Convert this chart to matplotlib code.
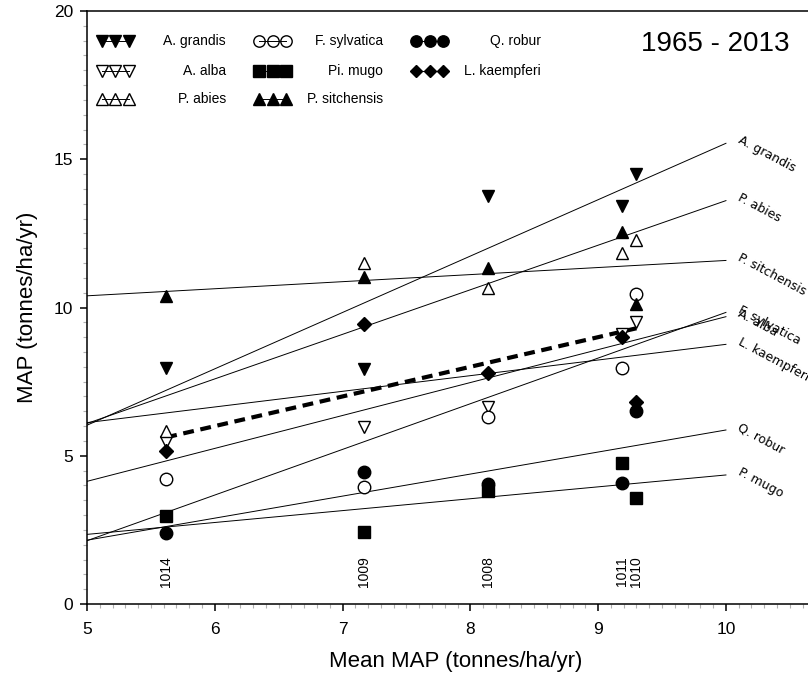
import numpy as np
import matplotlib
matplotlib.use('Agg')
import matplotlib.pyplot as plt
from matplotlib.ticker import MultipleLocator

plt.rcParams['font.family'] = ['Liberation Sans', 'DejaVu Sans']

# Sites and their mean MAP (x axis)
sites = ['1014', '1009', '1008', '1011', '1010']
mean_map = [5.62, 7.17, 8.14, 9.19, 9.30]

# MAP per species at each site (same order as sites)
a_grandis = [7.96, 7.93, 13.76, 13.42, 14.50]
a_alba = [5.46, 5.97, 6.64, 9.12, 9.51]
p_abies = [5.84, 11.50, 10.66, 11.84, 12.28]
f_sylvatica = [4.20, 3.95, 6.31, 7.96, 10.46]
pi_mugo = [2.97, 2.43, 3.80, 4.75, 3.57]
p_sitchensis = [10.38, 11.03, 11.33, 12.55, 10.12]
q_robur = [2.39, 4.45, 4.05, 4.08, 6.51]
l_kaempferi = [5.16, 9.44, 7.79, 9.00, 6.81]

period = '1965 - 2013'

# legend name, line label, values, marker, filled
series = [
    ('A. grandis', 'A. grandis', a_grandis, 'v', True),
    ('A. alba', 'A. alba', a_alba, 'v', False),
    ('P. abies', 'P. abies', p_abies, '^', False),
    ('F. sylvatica', 'F. sylvatica', f_sylvatica, 'o', False),
    ('Pi. mugo', 'P. mugo', pi_mugo, 's', True),
    ('P. sitchensis', 'P. sitchensis', p_sitchensis, '^', True),
    ('Q. robur', 'Q. robur', q_robur, 'o', True),
    ('L. kaempferi', 'L. kaempferi', l_kaempferi, 'D', True),
]
msize = {'v': 9, '^': 9, 'o': 9, 's': 9, 'D': 7}

fig = plt.figure(figsize=(8.08, 6.76), dpi=100)
# axes reaches the right edge of the figure (cropped like the original)
ax = fig.add_axes([87 / 808, 1 - 604 / 676, 722 / 808, 593 / 676])

xfit = np.array([5.0, 10.0])
for name, label, vals, mk, filled in series:
    # regression line of species MAP on mean MAP
    k, b = np.polyfit(mean_map, vals, 1)
    yfit = k * xfit + b
    ax.plot(xfit, yfit, color='black', lw=0.7, zorder=2)
    ax.text(10.1, yfit[-1] + 0.12, label, rotation=-28, rotation_mode='anchor',
            ha='left', va='center', fontsize=9, family='DejaVu Sans',
            clip_on=False)
    ax.plot(mean_map, vals, ls='none', marker=mk, ms=msize[mk],
            mfc='black' if filled else 'white', mec='black', mew=1.0,
            zorder=4)

# 1:1 line over the range of sites
ax.plot([min(mean_map), max(mean_map)], [min(mean_map), max(mean_map)],
        color='black', lw=3, dashes=(2.6, 1.6), zorder=3)

for s, x in zip(sites, mean_map):
    ax.text(x, 1.1, s, rotation=90, ha='center', va='center', fontsize=10)

# legend: 3 columns, markers first, labels right-aligned
leg_cols_x = [(102, 226), (259, 383), (416, 541)]
leg_rows_y = [41, 71, 99]
for i, (name, label, vals, mk, filled) in enumerate(series):
    col, row = i // 3, i % 3
    x0, xr = leg_cols_x[col]
    yy = 1 - leg_rows_y[row] / 676
    xs = [(x0 + d) / 808 for d in (0, 13.5, 27)]
    ax.plot(xs, [yy] * 3, transform=fig.transFigure, clip_on=False,
            color='black', lw=0.7, marker=mk, ms=msize[mk] - 0.8,
            mfc='black' if filled else 'none', mec='black', mew=1.0)
    fig.text(xr / 808, yy, name, ha='right', va='center', fontsize=10)

fig.text(715 / 808, 1 - 44 / 676, period, ha='center', va='center', fontsize=20)

ax.set_xlim(5, 10.65)
ax.set_ylim(0, 20)
ax.xaxis.set_major_locator(MultipleLocator(1))
ax.xaxis.set_minor_locator(MultipleLocator(0.1))
ax.yaxis.set_major_locator(MultipleLocator(5))
ax.yaxis.set_minor_locator(MultipleLocator(0.5))
ax.tick_params(which='major', direction='out', length=5, width=1.1,
               labelsize=12.5)
ax.tick_params(axis='x', which='major', pad=8)
ax.tick_params(axis='y', which='major', pad=5)
ax.tick_params(which='minor', direction='out', length=3, width=0.8,
               color='#b0b0b0')
for sp in ['left', 'bottom', 'top']:
    ax.spines[sp].set_linewidth(1.1)
ax.spines['right'].set_visible(False)

ax.set_xlabel('Mean MAP (tonnes/ha/yr)', fontsize=16)
ax.set_ylabel('MAP (tonnes/ha/yr)', fontsize=16)
ax.xaxis.set_label_coords(0.51, -0.08)
ax.yaxis.set_label_coords(-0.068, 0.5)

fig.savefig('out.png', dpi=100)
